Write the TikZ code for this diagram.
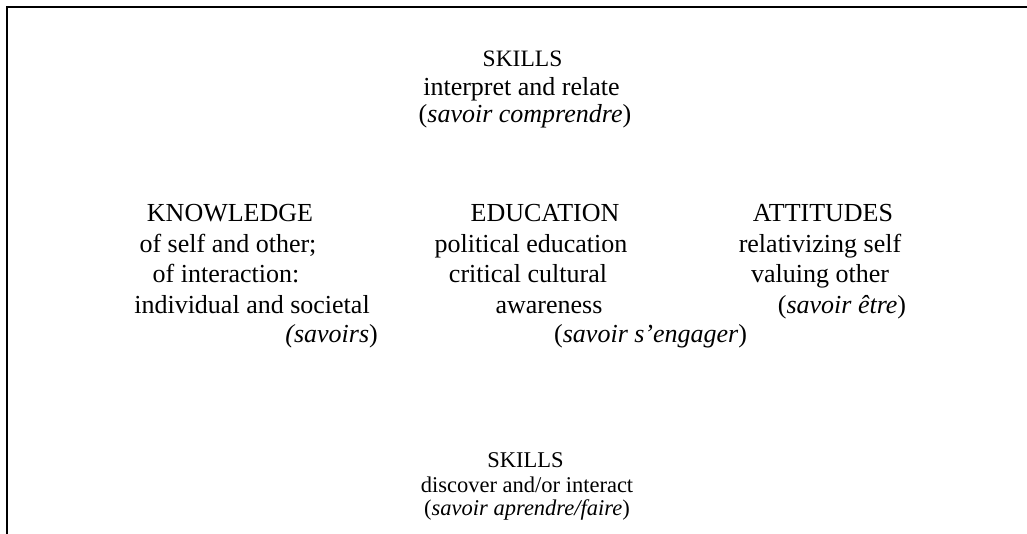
\documentclass[tikz,border=0pt]{standalone}
\usepackage{fontspec}
\setmainfont{Liberation Serif}
\begin{document}
\begin{tikzpicture}[x=1pt,y=-1pt,
  line/.style={anchor=base,inner sep=0pt,font=\fontsize{26}{26}\selectfont},
  lineR/.style={line,anchor=base east},
  lineL/.style={line,anchor=base west},
  small/.style={line,font=\fontsize{22.5}{22.5}\selectfont}]
\useasboundingbox (0,0) rectangle (1027,534);
\draw[line width=1.5pt] (1027,7) -- (7,7) -- (7,534);
% top
\node[small,font=\fontsize{23.5}{23.5}\selectfont] (s1) at (522.5,67) {SKILLS};
\node[line] (s2) at (521.5,96) {interpret and relate};
\node[line] (s3) at (525,123) {(\textit{savoir comprendre})};
% left
\node[line] (k1) at (230,222) {KNOWLEDGE};
\node[line] (k2) at (228,253) {of self and other;};
\node[line] (k3) at (226,283) {of interaction:};
\node[line] (k4) at (252,313) {individual and societal};
\node[lineR] (k5) at (378,342) {\textit{(savoirs})};
% middle
\node[line] (e1) at (545,222) {EDUCATION};
\node[line] (e2) at (531,253) {political education};
\node[line] (e3) at (528,283) {critical cultural};
\node[line] (e4) at (549,313) {awareness};
\node[lineL] (e5) at (554,342) {(\textit{savoir s'engager})};
% right
\node[line] (a1) at (823,222) {ATTITUDES};
\node[line] (a2) at (820,253) {relativizing self};
\node[line] (a3) at (820,283) {valuing other};
\node[line] (a4) at (842,313) {(\textit{savoir être})};
% bottom
\node[small] (d1) at (525.5,467) {SKILLS};
\node[small] (d2) at (527,492) {discover and/or interact};
\node[small] (d3) at (527,515) {(\textit{savoir aprendre/faire})};
\end{tikzpicture}
\end{document}
